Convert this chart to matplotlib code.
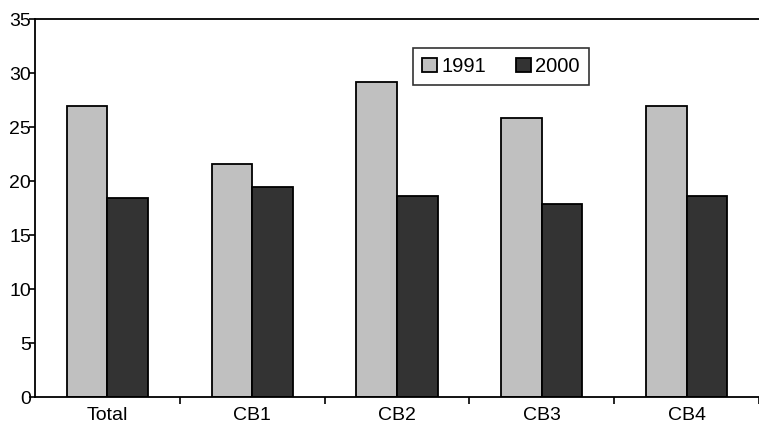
import matplotlib
matplotlib.use("Agg")
import matplotlib.pyplot as plt
import numpy as np

categories = ["Total", "CB1", "CB2", "CB3", "CB4"]
series_names = ["1991", "2000"]
values_1991 = [26.9, 21.6, 29.2, 25.8, 26.9]
values_2000 = [18.4, 19.4, 18.6, 17.9, 18.6]
yticks = [0, 5, 10, 15, 20, 25, 30, 35]

plt.rcParams['font.family'] = ['Liberation Sans', 'DejaVu Sans']

fig = plt.figure(figsize=(7.59, 4.32), dpi=100)
ax = fig.add_axes([35/759, 35/432, 1 - 35/759, (397-19)/432])

x = np.arange(len(categories))
w = 0.28
ax.bar(x - w/2, values_1991, w, color="#c0c0c0", edgecolor="black", linewidth=1.3, label=series_names[0])
ax.bar(x + w/2, values_2000, w, color="#333333", edgecolor="black", linewidth=1.3, label=series_names[1])

ax.set_ylim(0, 35)
ax.set_yticks(yticks)
ax.set_xlim(-0.5, -0.5 + (759-35)/146)
ax.set_xticks(x)
ax.set_xticklabels(categories)
ax.set_xticks(np.arange(len(categories)) + 0.5, minor=True)
ax.tick_params(axis='x', which='major', length=0, labelsize=14, pad=7)
ax.tick_params(axis='x', which='minor', length=5, width=1.2, direction='out')
ax.tick_params(axis='y', length=4, width=1.2, direction='out', labelsize=14, pad=-1)
for s in ['left', 'bottom', 'top']:
    ax.spines[s].set_linewidth(1.3)
ax.spines['right'].set_visible(False)

leg = ax.legend(loc='upper center', ncol=2, frameon=True, fancybox=False, fontsize=14.5,
                handlelength=0.75, handleheight=0.75, handletextpad=0.2, columnspacing=1.5,
                borderpad=0.45, borderaxespad=0)
leg.get_frame().set_edgecolor('black')
leg.get_frame().set_linewidth(1.2)
leg.set_bbox_to_anchor((501/759, 1 - 48/432), transform=fig.transFigure)

fig.savefig("out.png", dpi=100)
